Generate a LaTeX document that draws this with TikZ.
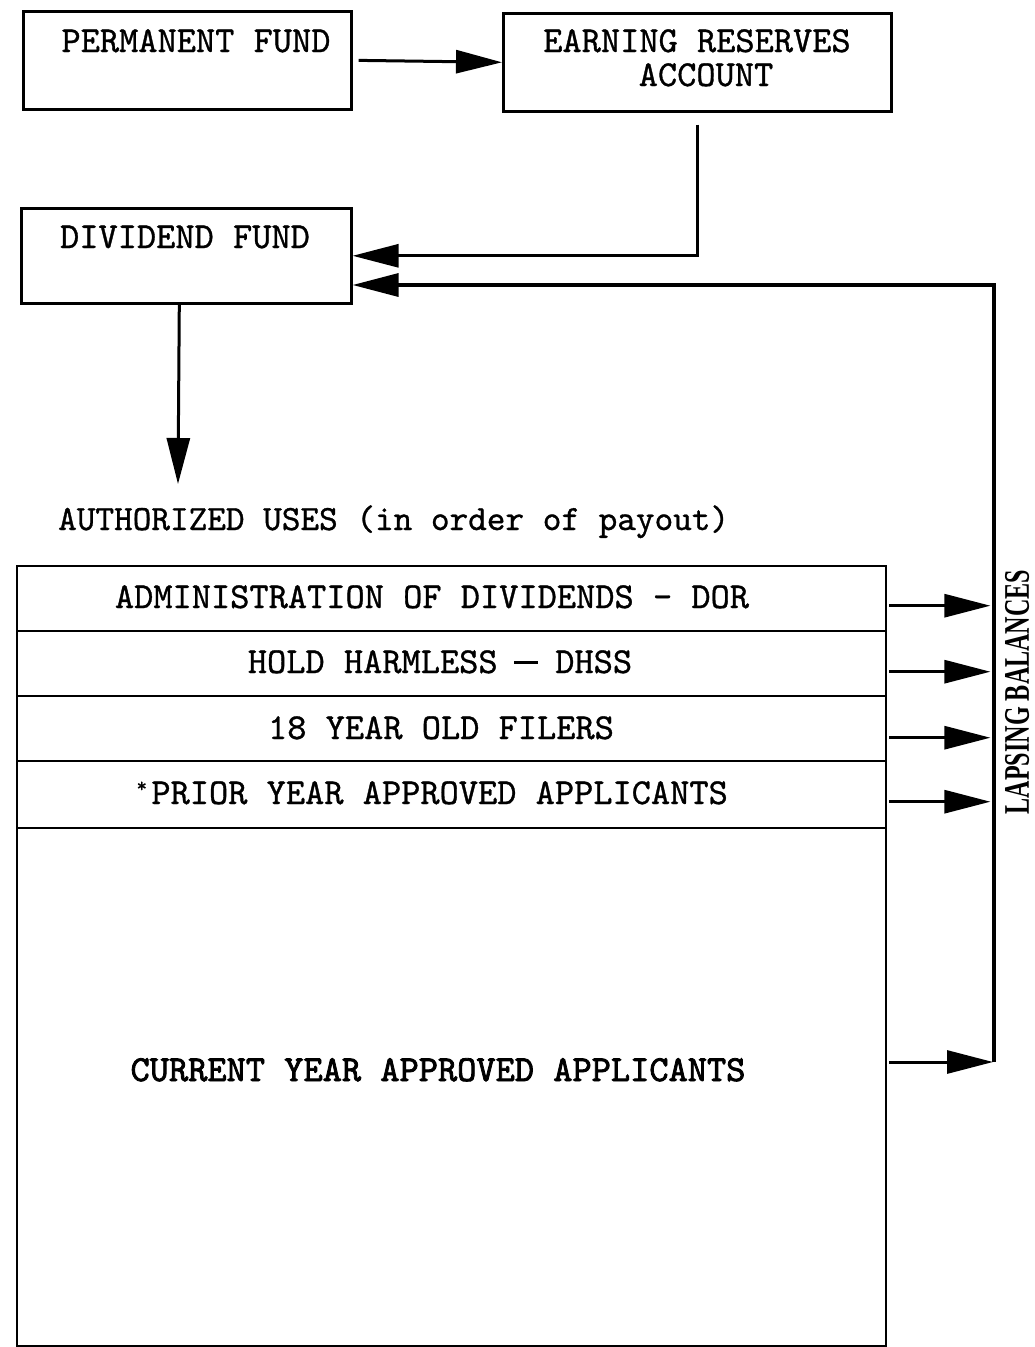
\documentclass[tikz,border=0pt]{standalone}
\usepackage{fontspec}
\newfontfamily\lapfont{Liberation Serif}
\newfontfamily\tw{lmmono10-regular.otf}[FakeBold=0.9]
\newfontfamily\twb{lmmono10-regular.otf}[FakeBold=2.2]
\usetikzlibrary{arrows.meta}
\begin{document}
\begin{tikzpicture}[x=1pt,y=-1pt,
  box/.style={draw,line width=2.6pt,rectangle,inner sep=0pt,anchor=north west},
  row/.style={draw,line width=2.4pt,rectangle,inner sep=0pt,anchor=north west,minimum width=869pt},
  txt/.style={font=\fontsize{36.6}{42}\selectfont\tw,inner sep=0pt,anchor=base},
  arr/.style={line width=3pt,-{Triangle[length=46pt,width=23pt]}}]
\useasboundingbox (0,0) rectangle (1034,1347);
\fill[white] (0,0) rectangle (1034,1347);
% top boxes
\node[box,minimum width=328pt,minimum height=98pt] (pf) at (22,10) {};
\node[txt] (pft) at (196,52) {PERMANENT FUND};
\node[box,minimum width=388pt,minimum height=98pt] (era) at (502,12) {};
\node[txt] (erat1) at (697,52) {EARNING RESERVES};
\node[txt] (erat2) at (706,86) {ACCOUNT};
\node[box,minimum width=330pt,minimum height=95pt] (df) at (20,207) {};
\node[txt] (dft) at (185,248) {DIVIDEND FUND};
% authorized uses
\node[txt,anchor=base west,font=\fontsize{35.5}{42}\selectfont\tw] (au) at (58,530) {AUTHORIZED USES (in order of payout)};
\coordinate (down) at (178,484);
% table rows
\node[row,minimum height=65pt] (r1) at (16,565) {};
\node[row,minimum height=65pt] (r2) at (16,630) {};
\node[row,minimum height=65pt] (r3) at (16,695) {};
\node[row,minimum height=67pt] (r4) at (16,760) {};
\node[row,minimum height=518pt] (r5) at (16,827) {};
\node[txt] (r1t) at (432,608) {ADMINISTRATION OF DIVIDENDS - DOR};
\node[txt] (r2t) at (440,673) {HOLD HARMLESS \makebox[0.525em]{\rule[9pt]{24pt}{2.8pt}} DHSS};
\node[txt] (r3t) at (441,739) {18 YEAR OLD FILERS};
\node[txt] (r4t) at (430,804) {\makebox[0.525em]{\raisebox{12pt}{\fontsize{20}{20}\selectfont\tw *}}PRIOR YEAR APPROVED APPLICANTS};
\node[txt,font=\fontsize{36.6}{42}\selectfont\twb] (r5t) at (438,1081) {CURRENT YEAR APPROVED APPLICANTS};
% lapsing balances
\node[rotate=90,inner sep=0pt,font=\fontsize{36}{40}\selectfont\lapfont\bfseries] (lap) at (1017,692) {\scalebox{0.67}[1]{LAPSING BALANCES}};
\coordinate (lt) at (994,285);
\coordinate (lb) at (994,1062);
% connectors
\draw[arr,shorten <=6pt] (pf.east) -- (era.west);
\draw[arr] ([yshift=-12pt]era.south) -- (era.south |- df.east) -- (df.east);
\draw[arr,line width=3.4pt] (lb) -- (lt) -- (lt -| df.east);
\draw[arr] ([xshift=-7pt]df.south) -- (down);
\draw[arr] ([yshift=-7pt,xshift=2pt]r1.east) -- ++(101,0);
\draw[arr] ([yshift=-8pt,xshift=2pt]r2.east) -- ++(101,0);
\draw[arr] ([yshift=-9pt,xshift=2pt]r3.east) -- ++(101,0);
\draw[arr] ([yshift=-7pt,xshift=2pt]r4.east) -- ++(101,0);
\draw[arr] ([xshift=2pt]r5.east |- lb) -- ([xshift=-1pt]lb);
\end{tikzpicture}
\end{document}
